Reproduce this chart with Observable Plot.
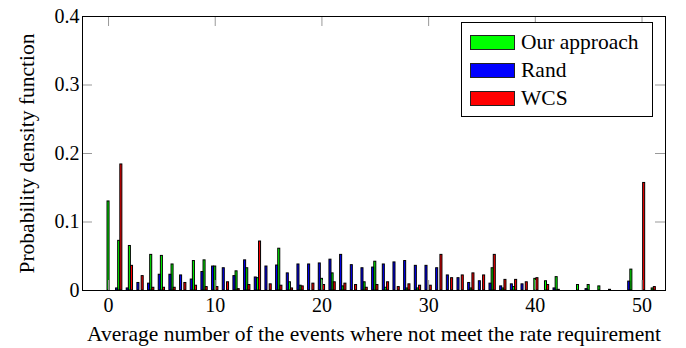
<!DOCTYPE html>
<html>
<head>
<meta charset="utf-8">
<script src="https://cdn.jsdelivr.net/npm/d3@7"></script>
<script src="https://cdn.jsdelivr.net/npm/@observablehq/plot@0.6"></script>
<style>
  html, body { margin: 0; padding: 0; background: #fff; }
  #wrap { position: relative; width: 686px; height: 348px; font-family: "Liberation Serif", "DejaVu Serif", serif; }
  #legend { position: absolute; left: 461px; top: 22px; width: 192px; height: 95px; border: 1px solid #000; background: #fff; box-sizing: border-box; }
  .row { position: absolute; left: 8px; height: 28px; display: flex; align-items: center; font-size: 21.5px; color: #000; }
  .sw { width: 45px; height: 15px; border: 1px solid #222; box-sizing: border-box; margin-right: 6px; }
</style>
</head>
<body>
<div id="wrap"></div>
<script>
// ---- data ----
const events = [0,1,2,3,4,5,6,7,8,9,10,11,12,13,14,15,16,17,18,19,20,21,22,23,24,25,
  26,27,28,29,30,31,32,33,34,35,36,37,38,39,40,41,42,43,44,45,46,47,48,49,50,51];
const seriesNames = ["Our approach", "Rand", "WCS"];
const seriesColors = ["#00ff00", "#0000ff", "#ff0000"];
const ourApproach = [0.130,0.0725,0.065,0,0.052,0.0505,0.038,0,0.043,0.044,0.035,0,0.028,0.0325,0.018,0,
  0.061,0.012,0.007,0,0.017,0.025,0.006,0,0.012,0.042,0.004,0,0.003,0.003,0,0,0,0,0.003,0,
  0.0325,0.003,0.005,0,0.017,0.0135,0.0195,0,0.008,0.008,0.006,0.001,0,0.0305,0,0.003];
const rand = [0,0.003,0.003,0.011,0.010,0.023,0.023,0.022,0.016,0.027,0.035,0.0325,0.021,0.044,0.019,0.035,
  0.0365,0.025,0.038,0.038,0.0395,0.045,0.052,0.037,0.0325,0.0335,0.038,0.041,0.043,0.036,0.036,0.0325,
  0.022,0.018,0.011,0.0135,0.010,0.006,0.009,0.009,0,0,0.003,0,0,0.002,0,0,0,0.013,0,0];
const wcs = [0,0.184,0.036,0.021,0.004,0.004,0.004,0.011,0.007,0.005,0.005,0.012,0.002,0.008,0.0715,0.009,
  0.007,0.003,0.006,0.010,0.008,0.012,0.010,0.008,0.004,0.008,0.012,0.005,0.009,0.007,0.007,0.052,
  0.018,0.022,0.025,0.022,0.052,0.0155,0.0155,0.012,0.018,0.008,0.001,0,0,0,0,0,0,0,0.157,0.005];
const xTicks = [0, 10, 20, 30, 40, 50];
const yTicks = [0, 0.1, 0.2, 0.3, 0.4];
const yTickLabels = ["0", "0.1", "0.2", "0.3", "0.4"];
const xTitle = "Average number of the events where not meet the rate requirement";
const yTitle = "Probability density function";

// ---- layout / style ----
const W = 686, H = 348;
const mL = 82, mR = 21, mT = 16, mB = 58;
const plotW = W - mL - mR, plotH = H - mT - mB;
const offsets = {"Our approach": 0, "Rand": -0.2, "WCS": 0.2};
const bw = 0.19;
const tickLen = 10;

const allValues = [ourApproach, rand, wcs];
const rows = [];
seriesNames.forEach((name, s) => {
  events.forEach((e, i) => {
    const v = allValues[s][i];
    if (v > 0) rows.push({series: name, x: e + offsets[name], y: v});
  });
});

const fontFamily = '"Liberation Serif", "DejaVu Serif", serif';

const chart = Plot.plot({
  width: W, height: H,
  marginLeft: mL, marginRight: mR, marginTop: mT, marginBottom: mB,
  style: {fontFamily, fontSize: "20px", background: "#fff", color: "#000"},
  x: {domain: [-2.44, 52.2]},
  y: {domain: [0, 0.4]},
  color: {domain: seriesNames, range: seriesColors},
  marks: [
    Plot.rectY(rows, {x1: d => d.x - bw / 2, x2: d => d.x + bw / 2, y: "y", fill: "series", stroke: "#000", strokeWidth: 1}),
    // inner tick marks (left/right/top/bottom)
    Plot.tickY(yTicks, {stroke: "#999", strokeWidth: 1, insetRight: plotW - tickLen}),
    Plot.tickY(yTicks, {stroke: "#999", strokeWidth: 1, insetLeft: plotW - tickLen}),
    Plot.tickX(xTicks, {stroke: "#999", strokeWidth: 1, insetBottom: plotH - tickLen}),
    Plot.tickX(xTicks, {stroke: "#999", strokeWidth: 1, insetTop: plotH - tickLen}),
    Plot.axisY({ticks: yTicks, tickFormat: (d, i) => yTickLabels[i], tickSize: 0, tickPadding: 3, fontSize: 20, label: null}),
    Plot.axisX({ticks: xTicks, tickSize: 0, tickPadding: 7, fontSize: 20, label: null}),
    Plot.axisY({ticks: [], tickSize: 0, label: yTitle, labelAnchor: "center", labelArrow: "none", labelOffset: 64, fontSize: 21.5}),
    Plot.axisX({ticks: [], tickSize: 0, label: xTitle, labelAnchor: "center", labelArrow: "none", labelOffset: 50, fontSize: 21.5}),
    Plot.frame({stroke: "#000", strokeWidth: 1})
  ]
});
document.getElementById("wrap").appendChild(chart);

// legend overlay (inside plot area, top-right)
const legend = document.createElement("div");
legend.id = "legend";
seriesNames.forEach((name, i) => {
  const row = document.createElement("div");
  row.className = "row";
  row.style.top = (5 + i * 28.3) + "px";
  const sw = document.createElement("div");
  sw.className = "sw";
  sw.style.background = seriesColors[i];
  const t = document.createElement("span");
  t.textContent = name;
  row.appendChild(sw); row.appendChild(t);
  legend.appendChild(row);
});
document.getElementById("wrap").appendChild(legend);
</script>
</body>
</html>
